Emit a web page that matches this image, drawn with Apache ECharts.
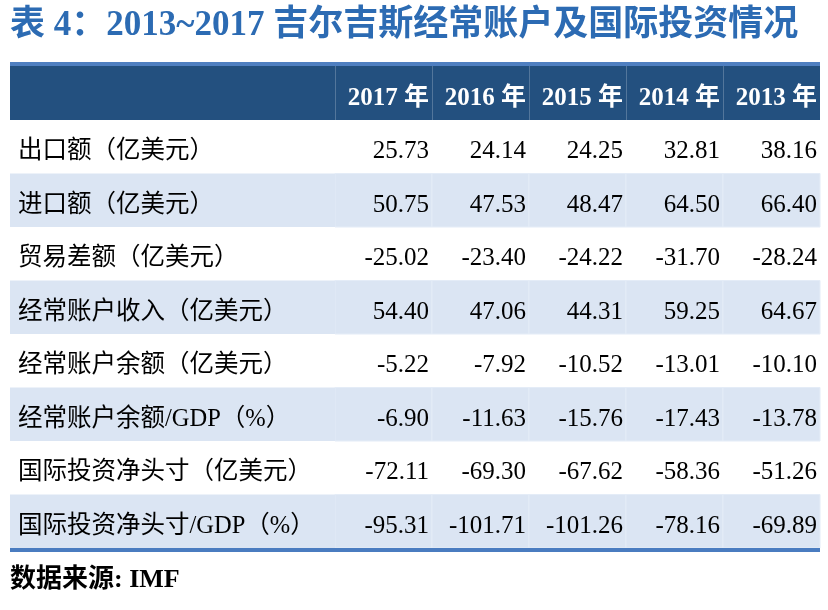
<!DOCTYPE html>
<html><head><meta charset="utf-8">
<script src="https://cdn.jsdelivr.net/npm/echarts@6/dist/echarts.min.js"></script>
<style>html,body{margin:0;padding:0;background:#fff}#c{width:828px;height:610px}</style>
</head><body><div id="c"></div>
<script>
const titleText = '表 4：2013~2017 吉尔吉斯经常账户及国际投资情况';
const sourceText = '数据来源: IMF';
const years = ['2017 年', '2016 年', '2015 年', '2014 年', '2013 年'];
const rowLabels = [
  '出口额（亿美元）',
  '进口额（亿美元）',
  '贸易差额（亿美元）',
  '经常账户收入（亿美元）',
  '经常账户余额（亿美元）',
  '经常账户余额/GDP（%）',
  '国际投资净头寸（亿美元）',
  '国际投资净头寸/GDP（%）'
];
const exportsV   = [25.73, 24.14, 24.25, 32.81, 38.16];
const importsV   = [50.75, 47.53, 48.47, 64.50, 66.40];
const tradeBal   = [-25.02, -23.40, -24.22, -31.70, -28.24];
const caIncome   = [54.40, 47.06, 44.31, 59.25, 64.67];
const caBalance  = [-5.22, -7.92, -10.52, -13.01, -10.10];
const caBalGdp   = [-6.90, -11.63, -15.76, -17.43, -13.78];
const niip       = [-72.11, -69.30, -67.62, -58.36, -51.26];
const niipGdp    = [-95.31, -101.71, -101.26, -78.16, -69.89];
const rows = [exportsV, importsV, tradeBal, caIncome, caBalance, caBalGdp, niip, niipGdp];

const SERIF = '"Liberation Serif", "Times New Roman", "Noto Sans CJK SC", serif';
const LABEL_FONT = '"Liberation Serif", "Noto Sans CJK SC", sans-serif';
const BAND = '#dbe5f3';
const HEAD = '#23507f';

const valueData = [];
rows.forEach((r, ri) => r.forEach((v, ci) => valueData.push([ci, ri, v])));
const labelData = rowLabels.map((l, ri) => [0, ri, l]);
const headData = years.map((y, ci) => [ci, 0, y]);

const chart = echarts.init(document.getElementById('c'), null, {renderer: 'canvas'});
chart.setOption({
  animation: false,
  backgroundColor: '#fff',
  title: [
    {text: titleText, left: 10, top: 8, padding: 0,
     textStyle: {color: '#2c6bb3', fontSize: 35, fontWeight: 'bold', fontFamily: SERIF}},
    {text: sourceText, left: 10, top: 567, padding: 0,
     textStyle: {color: '#000', fontSize: 26, fontWeight: 'bold', fontFamily: SERIF}}
  ],
  graphic: [
    {type: 'rect', shape: {x: 10, y: 62, width: 810, height: 58}, style: {fill: HEAD}, z: -1},
    {type: 'rect', shape: {x: 10, y: 62, width: 810, height: 4}, style: {fill: '#4f7fc0'}, z: -1},
    {type: 'rect', shape: {x: 10, y: 548, width: 810, height: 4}, style: {fill: '#4a7cc0'}, z: 10}
  ],
  grid: [
    {left: 335, right: 8, top: 120, bottom: 62},
    {left: 10, width: 325, top: 120, bottom: 62},
    {left: 335, right: 8, top: 62, height: 58}
  ],
  xAxis: [
    {type: 'category', gridIndex: 0, data: years, show: false},
    {type: 'category', gridIndex: 1, data: ['label'], show: false},
    {type: 'category', gridIndex: 2, data: years, show: false}
  ],
  yAxis: [
    {type: 'category', gridIndex: 0, data: rowLabels, inverse: true, show: false},
    {type: 'category', gridIndex: 1, data: rowLabels, inverse: true, show: false},
    {type: 'category', gridIndex: 2, data: ['head'], show: false}
  ],
  series: [
    {
      type: 'custom', xAxisIndex: 0, yAxisIndex: 0, data: valueData,
      renderItem: function (params, api) {
        const ci = api.value(0), ri = api.value(1), v = api.value(2);
        const p = api.coord([ci, ri]); const s = api.size([1, 1]);
        const x0 = p[0] - s[0] / 2, y0 = p[1] - s[1] / 2;
        const children = [];
        if (ri % 2 === 1) {
          children.push({type: 'rect', shape: {x: x0, y: y0, width: s[0], height: s[1]},
            style: {fill: BAND, stroke: '#e4ecf7', lineWidth: 1}});
        }
        children.push({type: 'text', style: {
          text: v.toFixed(2), x: x0 + s[0] - 3, y: p[1] + 5,
          align: 'right', verticalAlign: 'middle',
          font: '25px ' + SERIF, fill: '#000'}});
        return {type: 'group', children: children};
      }
    },
    {
      type: 'custom', xAxisIndex: 1, yAxisIndex: 1, data: labelData,
      renderItem: function (params, api) {
        const ri = api.value(1);
        const lbl = rowLabels[ri];
        const p = api.coord([0, ri]); const s = api.size([1, 1]);
        const x0 = p[0] - s[0] / 2, y0 = p[1] - s[1] / 2;
        const children = [];
        if (ri % 2 === 1) {
          children.push({type: 'rect', shape: {x: x0, y: y0, width: s[0], height: s[1]},
            style: {fill: BAND}});
        }
        children.push({type: 'text', style: {
          text: lbl, x: x0 + 8, y: p[1] + 5,
          align: 'left', verticalAlign: 'middle',
          font: '24.5px ' + LABEL_FONT, fill: '#000'}});
        return {type: 'group', children: children};
      }
    },
    {
      type: 'custom', xAxisIndex: 2, yAxisIndex: 2, data: headData,
      renderItem: function (params, api) {
        const ci = api.value(0);
        const p = api.coord([ci, 0]); const s = api.size([1, 1]);
        const x0 = p[0] - s[0] / 2, y0 = p[1] - s[1] / 2;
        return {type: 'group', children: [
          {type: 'rect', shape: {x: x0, y: y0 + 4, width: 1, height: s[1] - 4},
            style: {fill: 'rgba(255,255,255,0.22)'}},
          {type: 'text', style: {
            text: years[ci], x: x0 + s[0] - 3, y: p[1] + 8,
            align: 'right', verticalAlign: 'middle',
            font: 'bold 25px ' + SERIF, fill: '#fff'}}
        ]};
      }
    }
  ]
});
</script></body></html>
